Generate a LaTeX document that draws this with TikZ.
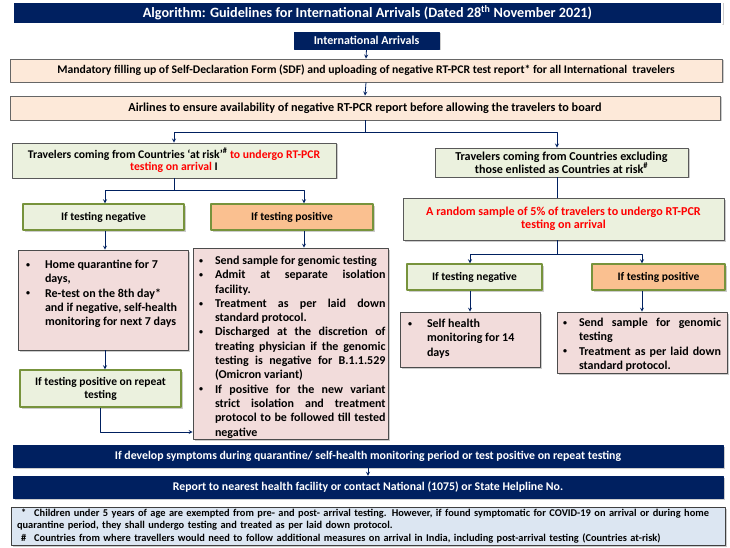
\documentclass[tikz,border=0pt]{standalone}
\usepackage{fontspec}
\setmainfont{Carlito}
\usetikzlibrary{shadows}
\definecolor{navy}{RGB}{0,32,96}
\definecolor{peach}{RGB}{253,233,217}
\definecolor{palegreen}{RGB}{235,241,222}
\definecolor{olivegreen}{RGB}{119,147,60}
\definecolor{orangefill}{RGB}{250,192,144}
\definecolor{pinkfill}{RGB}{242,220,219}
\definecolor{notefill}{RGB}{220,230,242}
\definecolor{riskred}{RGB}{255,0,0}
\newlength\bulletskip
\newcommand{\smallbullet}{\raisebox{1.2pt}{\fontsize{8}{8}\selectfont\textbullet}}
\newcommand{\bitem}[2][14pt]{\par\hangindent=#1\hangafter=1\noindent\makebox[#1][l]{\hspace*{\bulletskip}\smallbullet}#2}
\tikzset{
  shadowed/.style={drop shadow={shadow xshift=1.5pt,shadow yshift=-1.5pt,opacity=.4}},
  navybar/.style={shadowed,fill=navy,draw=navy,text=white,inner sep=1pt},
  peachbox/.style={shadowed,fill=peach,draw=black!60,line width=.8pt,inner sep=1pt},
  riskbox/.style={shadowed,fill=palegreen,draw=black!65,line width=.8pt,inner sep=1pt,align=center,
    font=\bfseries\fontsize{12.1}{12.8}\selectfont},
  ifneg/.style={shadowed,fill=palegreen,draw=olivegreen,line width=1.4pt,inner sep=1pt,align=center,
    font=\bfseries\fontsize{11.5}{13}\selectfont},
  ifpos/.style={ifneg,fill=orangefill},
  listbox/.style={shadowed,fill=pinkfill,draw=black!70,line width=.6pt,inner ysep=0pt,
    font=\bfseries\fontsize{12}{14.3}\selectfont},
  notebox/.style={shadowed,fill=notefill,draw=black!75,line width=.6pt,inner ysep=0pt,align=left,
    font=\bfseries\fontsize{10.4}{12.5}\selectfont},
  link/.style={draw=navy,line width=.8pt},
}
\begin{document}
\begin{tikzpicture}[x=1pt,y=-1pt,>=stealth,line join=round,font=\bfseries\fontsize{11.8}{13}\selectfont]
\useasboundingbox (0,0) rectangle (730,548);
% header and common steps
\node[navybar,draw=white,line width=1.5pt,minimum width=709,minimum height=22,
  font=\bfseries\fontsize{14.2}{15}\selectfont] (title) at (367.5,13)
  {Algorithm: Guidelines for International Arrivals (Dated 28\textsuperscript{th} November 2021)};
\node[navybar,minimum width=145,minimum height=17,font=\bfseries\fontsize{12}{12}\selectfont] (intl) at (366.5,40.5) {International Arrivals};
\node[peachbox,minimum width=712,minimum height=23,font=\bfseries\fontsize{11.7}{13}\selectfont] (sdf) at (366,70.5)
  {Mandatory filling up of Self-Declaration Form (SDF) and uploading of negative RT-PCR test report* for all International~ travelers};
\node[peachbox,minimum width=710,minimum height=24,font=\bfseries\fontsize{12.2}{13}\selectfont] (airl) at (365,108)
  {Airlines to ensure availability of negative RT-PCR report before allowing the travelers to board};
% the two groups of countries
\node[riskbox,minimum width=324,minimum height=35,font=\bfseries\fontsize{11.7}{12.8}\selectfont] (riskL) at (174,160.5)
  {Travelers coming from Countries ‘at risk’\textsuperscript{\#} \textcolor{riskred}{to undergo RT-PCR}\\
   \textcolor{riskred}{testing on arrival} I};
\node[riskbox,minimum width=253,minimum height=29] (riskR) at (561.5,162.5)
  {Travelers coming from Countries excluding\\those enlisted as Countries at risk\textsuperscript{\#}};
% left branch
\node[ifneg,minimum width=161,minimum height=26] (negL) at (103.5,217) {If testing negative};
\node[ifpos,minimum width=162,minimum height=26] (posL) at (292,217) {If testing positive};
\node[listbox,inner xsep=8pt,minimum width=170,minimum height=100] (homeq) at (103,300)
  {\parbox[c][80pt][t]{154pt}{\raggedright\setlength\bulletskip{0pt}%
   \bitem[19pt]{Home quarantine for 7\newline days,}%
   \bitem[19pt]{Re-test on the 8th day*\newline and if negative, self-health\newline monitoring for next 7 days}}};
\node[ifneg,minimum width=161,minimum height=37] (repeat) at (100.5,388.5) {If testing positive on repeat\\testing};
\node[listbox,inner xsep=2.5pt,minimum width=195,minimum height=191] (posLlist) at (290.5,343.5)
  {\parbox[c][175pt][t]{190pt}{\setlength\bulletskip{3.5pt}%
   \bitem[19.5pt]{Send sample for genomic testing}%
   \bitem[19.5pt]{Admit at separate isolation\linebreak facility.}%
   \bitem[19.5pt]{Treatment as per laid down\linebreak standard protocol.}%
   \bitem[19.5pt]{Discharged at the discretion of\linebreak treating physician if the genomic\linebreak testing is negative for B.1.1.529\linebreak (Omicron variant)}%
   \bitem[19.5pt]{If positive for the new variant\linebreak strict isolation and treatment\linebreak protocol to be followed till tested\linebreak negative}}};
% right branch
\node[riskbox,minimum width=321,minimum height=42,text=riskred] (random) at (563.5,219)
  {A random sample of 5\% of travelers to undergo RT-PCR\\testing on arrival};
\node[ifneg,minimum width=135,minimum height=26] (negR) at (474.5,277) {If testing negative};
\node[ifpos,minimum width=133,minimum height=26] (posR) at (658.5,277) {If testing positive};
\node[listbox,inner xsep=8pt,minimum width=140,minimum height=55] (selfh) at (470,339.5)
  {\parbox[c][41pt][t]{124pt}{\raggedright\setlength\bulletskip{0pt}%
   \bitem[19pt]{Self health\newline monitoring for 14\newline days}}};
\node[listbox,inner xsep=6pt,minimum width=170,minimum height=61] (sendR) at (642,342.5)
  {\parbox[c][49pt][t]{158pt}{\setlength\bulletskip{0pt}%
   \bitem[16pt]{Send sample for genomic\linebreak testing}%
   \bitem[16pt]{Treatment as per laid down\linebreak standard protocol.}}};
% bottom
\node[navybar,minimum width=710,minimum height=22] (sympt) at (368,456)
  {If develop symptoms during quarantine/ self-health monitoring period or test positive on repeat testing};
\node[navybar,minimum width=710,minimum height=22] (report) at (368,487)
  {Report to nearest health facility or contact National (1075) or State Helpline No.};
\node[notebox,inner xsep=6pt,text width=702pt,minimum height=38] (foot) at (368,526)
  {\hspace*{4pt}*\hspace{8pt}Children under 5 years of age are exempted from pre- and post- arrival testing. However, if found symptomatic for COVID-19 on arrival or during home\\
   quarantine period, they shall undergo testing and treated as per laid down protocol.\\
   \hspace*{4pt}\#\hspace{8pt}Countries from where travellers would need to follow additional measures on arrival in India, including post-arrival testing (Countries at-risk)};
% connectors
\coordinate (jTop) at (365,132);
\coordinate (jMidL) at (174,190);
\coordinate (jRep) at (100,432);
\coordinate (jMidR) at (557,254);
\draw[link,->] (intl.south) -- (sdf.north);
\draw[link,->] (sdf.south) -- (airl.north);
\draw[link] (airl.south) -- (jTop);
\draw[link,->] (jTop) -| (riskL.north);
\draw[link,->] (jTop) -| ([xshift=-4.5]riskR.north);
\draw[link] (riskL.south) -- (jMidL);
\draw[link,->] (jMidL) -| ([xshift=1.5]negL.north);
\draw[link,->] (jMidL) -| ([xshift=12]posL.north);
\draw[link,->] ([xshift=1.5]negL.south) -- ([xshift=1.5]negL.south |- homeq.north);
\draw[link,->] ([xshift=12]posL.south) -- ([xshift=12]posL.south |- posLlist.north);
\draw[link,->] ([xshift=2]homeq.south) -- ([xshift=2]homeq.south |- repeat.north);
\draw[link,->] (repeat.south) |- (jRep -| posLlist.west);
\draw[link] ([xshift=-4.5]riskR.south) -- ([xshift=-4.5]riskR.south |- random.north);
\draw[link] ([xshift=-6.5]random.south) -- (jMidR);
\draw[link,->] (jMidR) -| ([xshift=-4.5]negR.north);
\draw[link,->] (jMidR) -| ([xshift=-16.5]posR.north);
\draw[link,->] (selfh.north |- negR.south) -- (selfh.north);
\draw[link,->] (sendR.north |- posR.south) -- (sendR.north);
\draw[link,->] (sympt.south) -- (report.north);
\end{tikzpicture}
\end{document}
